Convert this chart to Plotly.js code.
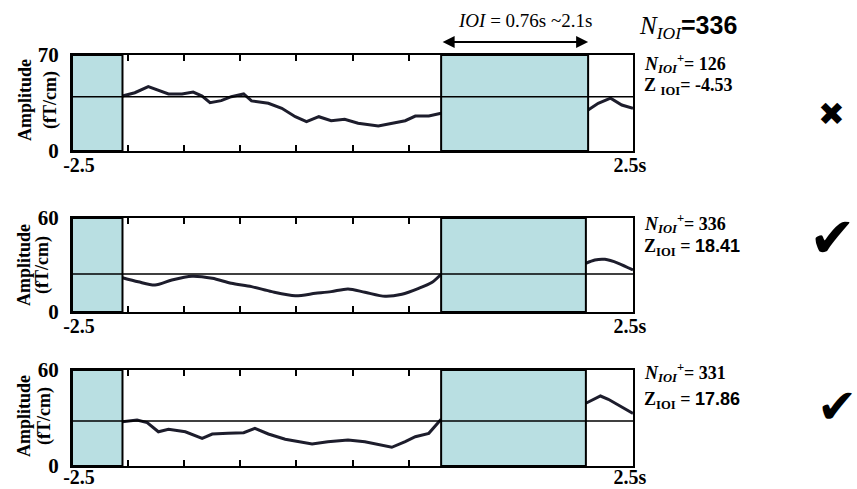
<!DOCTYPE html>
<html>
<head>
<meta charset="utf-8">
<script src="https://cdn.plot.ly/plotly-3.0.1.min.js"></script>
<style>html,body{margin:0;padding:0;background:#fff;}#chart{width:857px;height:489px;}</style>
</head>
<body>
<div id="chart"></div>
<script>
// ---- data ----
const xTickVals = [-2.5, -2.0, -1.5, -1.0, -0.5, 0.0, 0.5, 1.0, 1.5, 2.0, 2.5];
const xTickText = ['-2.5', '', '', '', '', '', '', '', '', '', '2.5s\u00a0\u00a0\u00a0\u00a0'];
const yMax = [70, 60, 60];
const thresholds = [39.5, 24.3, 28.1];
const baseStart = -2.5, baseEnd = -2.05;
const ioiStart = [0.79, 0.79, 0.79];
const ioiEnd = [2.1, 2.08, 2.08];

const time1 = [-2.05,-1.94,-1.82,-1.73,-1.64,-1.52,-1.42,-1.34,-1.27,-1.17,-1.08,-0.97,-0.90,-0.75,-0.63,-0.51,-0.41,-0.30,-0.19,-0.07,0.05,0.23,0.38,0.47,0.56,0.68,0.79,null,2.10,2.19,2.30,2.40,2.50];
const amp1 = [40.1,42.5,46.9,44.0,41.6,41.6,43.0,40.1,35.2,36.7,39.6,41.6,36.5,34.8,31.1,25.0,21.4,25.0,22.1,23.1,20.2,18.2,20.6,22.1,25.5,25.5,27.5,null,29.9,34.8,38.5,33.5,31.1];

const time2 = [-2.05,-1.91,-1.76,-1.61,-1.43,-1.25,-1.08,-0.90,-0.72,-0.51,-0.33,-0.19,-0.04,0.11,0.29,0.44,0.59,0.71,0.79,null,2.08,2.16,2.25,2.37,2.50];
const amp2 = [21.9,19.3,17.2,20.4,22.8,21.5,18.3,16.2,13.0,10.4,11.9,13.0,14.7,12.6,10.0,11.3,15.1,19.0,24.1,null,31.1,33.2,33.6,31.1,26.8];

const time3 = [-2.05,-1.92,-1.83,-1.73,-1.64,-1.49,-1.34,-1.25,-1.11,-0.97,-0.87,-0.75,-0.60,-0.36,-0.22,-0.04,0.11,0.35,0.47,0.56,0.68,0.79,null,2.08,2.21,2.28,2.40,2.50];
const amp3 = [27.7,28.75,27.1,21.4,22.9,21.4,17.3,20.0,20.4,20.8,23.5,20.0,16.7,13.75,15.2,16.25,15.2,11.7,15.2,18.3,20.4,29.2,null,39.2,43.75,41.7,37.1,32.9];

const nTotal = 336;
const nPlus = [126, 336, 331];
const zScores = ['-4.53', '18.41', '17.86'];
const verdicts = ['\u2716', '\u2714', '\u2714'];

// ---- layout helpers ----
const W = 857, H = 489;
const px = v => v / W;
const py = v => 1 - v / H;
const SERIF = 'Liberation Serif, Times New Roman, serif';
const CYAN = '#b9dfe2';
const LINEC = '#1d1d2c';

const xDom = [px(72), px(633)];
const yDoms = [[py(151), py(55)], [py(312), py(218)], [py(466), py(370)]];
const xStandoff = [-5, -5, -8];
const times = [time1, time2, time3];
const amps = [amp1, amp2, amp3];

const traces = [];
const layout = {
  width: W, height: H,
  margin: {l: 0, r: 0, t: 0, b: 0},
  paper_bgcolor: '#fff', plot_bgcolor: '#fff',
  showlegend: false,
  shapes: [], annotations: []
};

for (let i = 0; i < 3; i++) {
  const sfx = i === 0 ? '' : String(i + 1);
  traces.push({
    type: 'scatter', mode: 'lines',
    x: times[i], y: amps[i],
    xaxis: 'x' + sfx, yaxis: 'y' + sfx,
    line: {color: LINEC, width: 3, shape: i === 1 ? 'spline' : 'linear', smoothing: 0.8},
    connectgaps: false, hoverinfo: 'skip'
  });
  layout['xaxis' + sfx] = {
    domain: xDom, anchor: 'y' + sfx, range: [-2.5, 2.5],
    showgrid: false, zeroline: false,
    showline: true, linecolor: '#000', linewidth: 2, mirror: 'ticks',
    ticks: 'inside', ticklen: 6, tickwidth: 2, tickcolor: '#000',
    tickmode: 'array', tickvals: xTickVals, ticktext: xTickText,
    ticklabelstandoff: xStandoff[i], ticklabelshift: 7,
    tickfont: {family: SERIF, size: 20, color: '#000', weight: 'bold'}
  };
  layout['yaxis' + sfx] = {
    domain: yDoms[i], anchor: 'x' + sfx, range: [0, yMax[i]],
    showgrid: false, zeroline: false,
    showline: true, linecolor: '#000', linewidth: 2, mirror: true,
    ticks: '', tickmode: 'array', tickvals: [0, yMax[i]], ticktext: ['0', String(yMax[i])],
    ticklabelstandoff: 7,
    tickfont: {family: SERIF, size: 21, color: '#000', weight: 'bold'}
  };
  const xr = 'x' + sfx, yr = 'y' + sfx;
  layout.shapes.push({type: 'rect', xref: xr, yref: yr, x0: baseStart, x1: baseEnd, y0: 0, y1: yMax[i],
    fillcolor: CYAN, line: {color: '#000', width: 2}, layer: 'above'});
  layout.shapes.push({type: 'rect', xref: xr, yref: yr, x0: ioiStart[i], x1: ioiEnd[i], y0: 0, y1: yMax[i],
    fillcolor: CYAN, line: {color: '#000', width: 2}, layer: 'above'});
  layout.shapes.push({type: 'line', xref: xr, yref: yr, x0: -2.5, x1: 2.5, y0: thresholds[i], y1: thresholds[i],
    line: {color: '#000', width: 1.5}, layer: 'above'});
}

// y-axis titles (two rotated lines per panel)
const ampCenters = [100, 265, 416];
const ampX = [[25, 50], [24, 42], [24, 44]];
for (let i = 0; i < 3; i++) {
  layout.annotations.push({xref: 'paper', yref: 'paper', x: px(ampX[i][0]), y: py(ampCenters[i]),
    xanchor: 'center', yanchor: 'middle', textangle: -90, showarrow: false,
    text: 'Amplitude', font: {family: SERIF, size: 18, color: '#000', weight: 'bold'}});
  layout.annotations.push({xref: 'paper', yref: 'paper', x: px(ampX[i][1]), y: py(ampCenters[i]),
    xanchor: 'center', yanchor: 'middle', textangle: -90, showarrow: false,
    text: '(fT/cm)', font: {family: SERIF, size: 18, color: '#000', weight: 'bold'}});
}

// IOI label and arrow
layout.annotations.push({xref: 'paper', yref: 'paper', x: px(525), y: py(21), xanchor: 'center', yanchor: 'middle',
  showarrow: false, text: '<i>IOI</i> = 0.76s ~2.1s', font: {family: SERIF, size: 19, color: '#000'}});
layout.annotations.push({xref: 'x', yref: 'paper', x: ioiEnd[0], y: py(42), axref: 'x', ayref: 'pixel',
  ax: ioiStart[0], ay: 0, showarrow: true, arrowside: 'end+start', arrowhead: 2, arrowsize: 1.2,
  arrowwidth: 2, arrowcolor: '#000', text: ''});

// N_IOI total
layout.annotations.push({xref: 'paper', yref: 'paper', x: px(637), y: py(27), xanchor: 'left', yanchor: 'middle',
  showarrow: false,
  text: '<i>N<sub>IOI</sub></i><span style="font-family:Liberation Sans, Arial, sans-serif"><b>=' + nTotal + '</b></span>',
  font: {family: SERIF, size: 25, color: '#000'}});

const nY = [63, 224, 372];
const zY = [86, 247, 400];
for (let i = 0; i < 3; i++) {
  layout.annotations.push({xref: 'paper', yref: 'paper', x: px(642), y: py(nY[i]), xanchor: 'left', yanchor: 'middle',
    showarrow: false,
    text: '<b><i>N<sub>IOI</sub></i><sup>+</sup>= ' + nPlus[i] + '</b>',
    font: {family: SERIF, size: 18, color: '#000'}});
  const zText = i === 0
    ? '<b>Z <sub>IOI</sub>= ' + zScores[i] + '</b>'
    : '<b>Z<sub>IOI</sub> = <span style="font-family:Liberation Sans, Arial, sans-serif">' + zScores[i] + '</span></b>';
  layout.annotations.push({xref: 'paper', yref: 'paper', x: px(642), y: py(zY[i]), xanchor: 'left', yanchor: 'middle',
    showarrow: false, text: zText, font: {family: SERIF, size: 18, color: '#000'}});
}

// verdict marks
const markX = [831, 832, 837];
const markY = [114, 238, 406];
const markSize = [32, 56, 48];
for (let i = 0; i < 3; i++) {
  layout.annotations.push({xref: 'paper', yref: 'paper', x: px(markX[i]), y: py(markY[i]), xanchor: 'center', yanchor: 'middle',
    showarrow: false, text: verdicts[i], font: {family: 'DejaVu Sans', size: markSize[i], color: '#000'}});
}

Plotly.newPlot('chart', traces, layout, {staticPlot: true, displayModeBar: false});
</script>
</body>
</html>
